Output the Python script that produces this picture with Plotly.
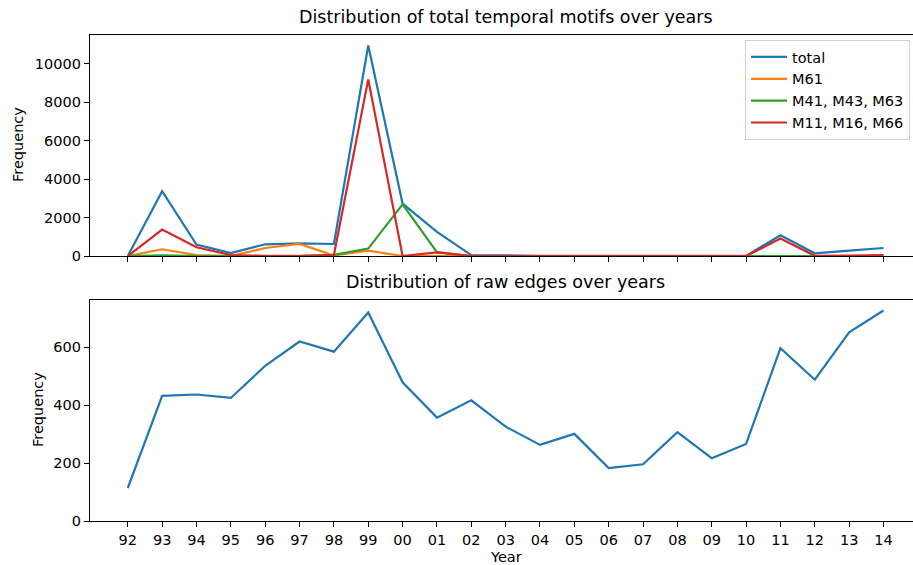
import plotly.graph_objects as go
from plotly.subplots import make_subplots

years = ["92", "93", "94", "95", "96", "97", "98", "99", "00", "01", "02", "03",
         "04", "05", "06", "07", "08", "09", "10", "11", "12", "13", "14"]

total = [0, 3370, 593, 156, 609, 661, 625, 10950, 2729, 1250, 50, 15,
         10, 10, 5, 5, 10, 5, 5, 1078, 141, 280, 417]
m61 = [0, 349, 50, 0, 417, 625, 30, 281, 0, 0, 0, 0,
       0, 0, 0, 0, 0, 0, 0, 20, 0, 0, 0]
m41_43_63 = [0, 40, 0, 0, 20, 10, 60, 385, 2690, 200, 0, 0,
             0, 0, 0, 0, 0, 0, 0, 0, 0, 0, 0]
m11_16_66 = [0, 1374, 453, 50, 0, 0, 50, 9187, 0, 192, 0, 0,
             0, 0, 0, 0, 0, 0, 0, 906, 10, 20, 50]

raw_edges = [114, 432, 437, 425, 536, 620, 585, 720, 479, 357, 417, 326,
             263, 301, 183, 196, 307, 217, 266, 597, 488, 652, 727]

top_ticks = [0, 2000, 4000, 6000, 8000, 10000]
bot_ticks = [0, 200, 400, 600]

W, H = 913, 565
L = 90
FONT = "DejaVu Sans"
TICK = 14.5
TITLE = 17.5

x = list(range(len(years)))
# visible x range (right edge of matplotlib axes falls off the image)
x_step = 34.35
x_left = -1.1
x_right = x_left + (W - L) / x_step

fig = make_subplots(rows=2, cols=1)

series = [
    ("total", total, "#1f77b4"),
    ("M61", m61, "#ff7f0e"),
    ("M41, M43, M63", m41_43_63, "#2ca02c"),
    ("M11, M16, M66", m11_16_66, "#d62728"),
]
for name, vals, col in series:
    fig.add_trace(go.Scatter(x=x, y=vals, mode="lines", name=name,
                             line=dict(color=col, width=2.2)), row=1, col=1)

fig.add_trace(go.Scatter(x=x, y=raw_edges, mode="lines", showlegend=False,
                         line=dict(color="#1f77b4", width=2.2)), row=2, col=1)

def py(px):
    return (H - px) / H

axis_common = dict(showgrid=False, zeroline=False, showline=True,
                   linecolor="black", linewidth=1.3, ticks="outside",
                   ticklen=5, tickwidth=1.1, tickcolor="black", automargin=False,
                   tickfont=dict(family=FONT, size=TICK, color="black"))

fig.update_xaxes(**axis_common, mirror=True, range=[x_left, x_right],
                 tickvals=x, ticktext=years)
fig.update_xaxes(showticklabels=False, row=1, col=1)
fig.update_yaxes(**axis_common, mirror=False)

top_max = max(total) * 1.05
bot_max = max(raw_edges) * 1.05
fig.update_yaxes(range=[0, top_max], tickvals=top_ticks,
                 ticktext=[str(t) for t in top_ticks],
                 domain=[py(256), py(35)], row=1, col=1)
fig.update_yaxes(range=[0, bot_max], tickvals=bot_ticks,
                 ticktext=[str(t) for t in bot_ticks],
                 domain=[py(521), py(300)], row=2, col=1)
fig.update_xaxes(domain=[0, 1])

mid = 11
fig.add_annotation(text="Distribution of total temporal motifs over years",
                   x=mid, xref="x", y=py(29), yref="paper", showarrow=False,
                   xanchor="center", yanchor="bottom",
                   font=dict(family=FONT, size=TITLE, color="black"))
fig.add_annotation(text="Distribution of raw edges over years",
                   x=mid, xref="x2", y=py(294), yref="paper", showarrow=False,
                   xanchor="center", yanchor="bottom",
                   font=dict(family=FONT, size=TITLE, color="black"))
fig.add_annotation(text="Frequency", textangle=-90,
                   x=(18 - L) / (W - L), xref="paper", y=py(145), yref="paper",
                   showarrow=False, xanchor="center", yanchor="middle",
                   font=dict(family=FONT, size=TICK, color="black"))
fig.add_annotation(text="Frequency", textangle=-90,
                   x=(38 - L) / (W - L), xref="paper", y=py(410), yref="paper",
                   showarrow=False, xanchor="center", yanchor="middle",
                   font=dict(family=FONT, size=TICK, color="black"))
fig.add_annotation(text="Year", x=mid, xref="x2", y=py(557), yref="paper",
                   showarrow=False, xanchor="center", yanchor="middle",
                   font=dict(family=FONT, size=TICK, color="black"))

fig.update_layout(
    width=W, height=H,
    margin=dict(l=L, r=0, t=0, b=0),
    plot_bgcolor="white", paper_bgcolor="white",
    font=dict(family=FONT, size=TICK, color="black"),
    legend=dict(x=(745 - L) / (W - L), y=py(40), xanchor="left", yanchor="top",
                bgcolor="rgba(255,255,255,0.8)", bordercolor="#d0d0d0",
                borderwidth=1, font=dict(family=FONT, size=TICK, color="black"),
                tracegroupgap=0, itemwidth=36, traceorder="normal"),
)

fig.write_html("out.html")
